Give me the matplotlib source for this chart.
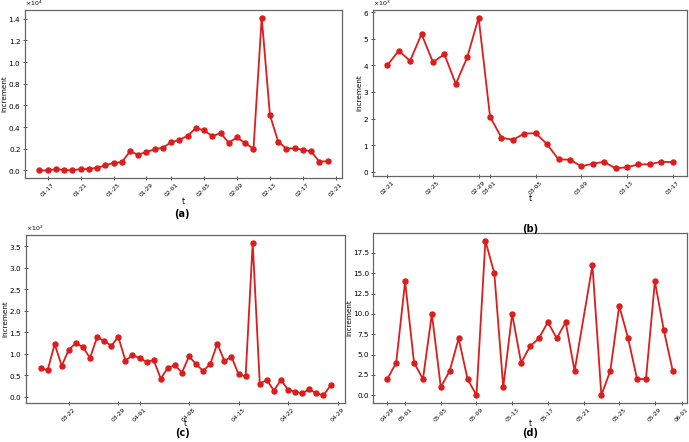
import datetime as dt
import matplotlib
matplotlib.use('Agg')
import matplotlib.pyplot as plt
import matplotlib.dates as mdates
from matplotlib.ticker import ScalarFormatter, MultipleLocator

# (a) 2020-01-16 .. 2020-02-20
a_start = dt.date(2020, 1, 16)
a_values = [0, 0, 100, 50, 0, 120, 120, 250, 450, 700, 750, 1750, 1450, 1700, 1950, 2100,
            2600, 2800, 3200, 3900, 3700, 3150, 3450, 2550, 3050, 2500, 2000, 14100, 5100,
            2650, 2000, 2050, 1900, 1750, 800, 850]

# (b) 2020-02-21 .. 2020-03-17
b_start = dt.date(2020, 2, 21)
b_values = [4000, 4550, 4170, 5180, 4120, 4420, 3300, 4300, 5800, 2070, 1280, 1200, 1430,
            1450, 1030, 460, 450, 200, 300, 370, 120, 170, 270, 280, 370, 360]

# (c) 2020-03-18 .. 2020-04-28
c_start = dt.date(2020, 3, 18)
c_values = [67, 61, 122, 72, 109, 125, 115, 90, 138, 130, 118, 139, 84, 96,
            90, 81, 85, 42, 67, 73, 56, 94, 75, 60, 76, 123, 83, 93, 52, 47, 358,
            30, 39, 14, 39, 16, 11, 8, 17, 8, 3, 26]

# (d) 2020-04-29 .. 2020-05-31, no point on 05-21
d_dates = ['04-29', '04-30', '05-01', '05-02', '05-03', '05-04', '05-05', '05-06', '05-07',
           '05-08', '05-09', '05-10', '05-11', '05-12', '05-13', '05-14', '05-15', '05-16',
           '05-17', '05-18', '05-19', '05-20', '05-22', '05-23', '05-24', '05-25', '05-26',
           '05-27', '05-28', '05-29', '05-30', '05-31']
d_values = [2, 4, 14, 4, 2, 10, 1, 3, 7, 2, 0, 19, 15, 1, 10, 4, 6, 7, 9, 7, 9, 3,
            16, 0, 3, 11, 7, 2, 2, 14, 8, 3]

captions = ['(a)', '(b)', '(c)', '(d)']

W, H = 689, 442
fig = plt.figure(figsize=(W / 100, H / 100), dpi=100)


def px_axes(x0, y0, x1, y1):
    # pixel box (top-left origin) -> figure fraction
    return fig.add_axes([x0 / W, 1 - y1 / H, (x1 - x0) / W, (y1 - y0) / H])


def day_range(start, n):
    return [start + dt.timedelta(days=i) for i in range(n)]


def style(ax, days, exp, t_px):
    for s in ax.spines.values():
        s.set_color('#666666')
        s.set_linewidth(0.9)
    ax.tick_params(direction='inout', length=3.5, width=0.7, color='#555555', pad=1.2)
    ax.tick_params(axis='y', labelsize=5.2)
    ax.tick_params(axis='x', labelsize=4.2, labelrotation=45)
    ax.xaxis.set_major_locator(mdates.DayLocator(bymonthday=days))
    ax.xaxis.set_major_formatter(mdates.DateFormatter('%m-%d'))
    if exp:
        fmt = ScalarFormatter(useMathText=True)
        fmt.set_powerlimits((exp, exp))
        ax.yaxis.set_major_formatter(fmt)
        ax.yaxis.get_offset_text().set_fontsize(4.5)
    ax.set_xlabel('t', fontsize=5.5, va='center')
    # put "t" a fixed number of pixels under the bottom spine
    h = ax.get_position().height * H
    ax.xaxis.set_label_coords(0.5, -t_px / h)
    ax.set_ylabel('increment', fontsize=5.2, labelpad=0.5)


def draw(ax, dates, vals):
    ax.plot(dates, vals, color='#dd1c1c', lw=1.3, marker='o', ms=3.6)


def caption(x, y, s):
    fig.text(x / W, 1 - y / H, s, fontsize=7, fontweight='bold', ha='center', va='center')


ax_a = px_axes(25, 10, 342, 178)
draw(ax_a, day_range(a_start, len(a_values)), a_values)
style(ax_a, range(1, 32, 4), 4, 24)
caption(182, 214, captions[0])

ax_b = px_axes(373, 10, 687, 176)
draw(ax_b, day_range(b_start, len(b_values)), b_values)
style(ax_b, range(1, 32, 4), 3, 23)
ax_b.yaxis.set_major_locator(MultipleLocator(1000))
caption(530, 229, captions[1])

ax_c = px_axes(26, 235, 345, 403)
draw(ax_c, day_range(c_start, len(c_values)), c_values)
style(ax_c, range(1, 32, 7), 2, 20)
caption(183, 433, captions[2])

ax_d = px_axes(373, 233, 687, 403)
d_x = [dt.date(2020, int(s[:2]), int(s[3:])) for s in d_dates]
draw(ax_d, d_x, d_values)
style(ax_d, range(1, 32, 4), 0, 21)
caption(530, 433, captions[3])

fig.savefig('out.png', dpi=100)
